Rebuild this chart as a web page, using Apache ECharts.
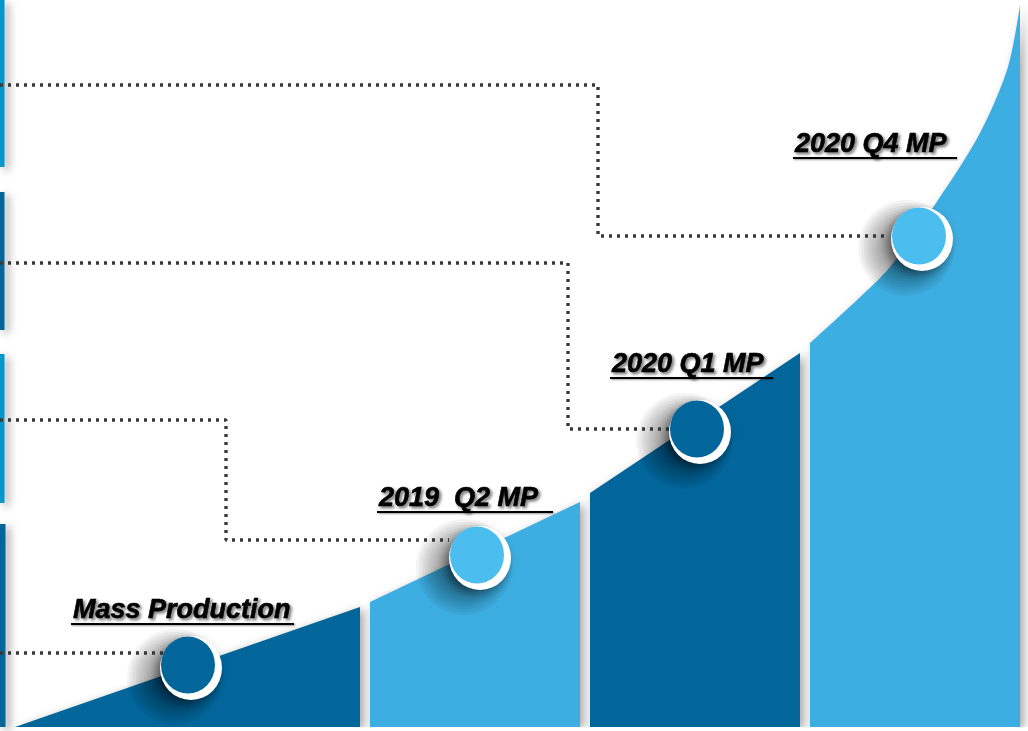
<!DOCTYPE html>
<html>
<head>
<meta charset="utf-8">
<script src="https://cdn.jsdelivr.net/npm/echarts@6/dist/echarts.min.js"></script>
<style>
html,body{margin:0;padding:0;background:#fff;}
#main{width:1028px;height:731px;}
</style>
</head>
<body>
<div id="main"></div>
<script>
// ---- data (x: timeline units, y: growth units) ----
var milestones = ['Mass Production', '2019  Q2 MP', '2020 Q1 MP', '2020 Q4 MP'];

var stage1 = [[1.5, 0], [36.0, 12.0]];
var stage2 = [[37.0, 12.5], [58.0, 22.5]];
var stage3 = [[59.0, 23.4], [80.0, 37.4]];
var stage4 = [[81.0, 38.4], [85.7, 42.7], [89.0, 46.0], [93.8, 52.7], [98.0, 59.4], [100.8, 66.0], [102.0, 72.2]];

var milestonePoints = [[18.8, 6.2], [47.7, 17.2], [69.7, 29.8], [91.9, 49.1]];

// label [startX, endX, underlineY]
var labelSpans = [[7.1, 29.4, 10.3], [37.7, 55.3, 21.5], [61.0, 77.3, 34.9], [79.3, 95.7, 56.9]];

// connector paths
var connectorA = [[0, 64.2], [59.8, 64.2], [59.8, 49.1], [88.9, 49.1]];
var connectorB = [[0, 46.4], [56.8, 46.4], [56.8, 29.8], [67.0, 29.8]];
var connectorC = [[0, 30.7], [22.6, 30.7], [22.6, 18.7], [44.9, 18.7]];
var connectorD = [[0, 7.4], [16.4, 7.4]];

// side markers [x0, x1, yTop, yBottom]
var sideMarkers = [[0, 0.45, 72.7, 56.0], [0, 0.45, 53.5, 39.7], [0, 0.45, 37.3, 22.4], [0, 0.55, 20.3, 0]];

var DARK = '#02669b', LIGHT = '#3daee1', CIRC_LIGHT = '#4bbdef', SIDE_LIGHT = '#0097cf';
var sideColors = [SIDE_LIGHT, DARK, SIDE_LIGHT, DARK];
var circleColors = [DARK, CIRC_LIGHT, DARK, CIRC_LIGHT];

function stageSeries(data, color, smooth) {
  return {
    type: 'line', data: data, symbol: 'none', smooth: smooth || false, z: 2,
    lineStyle: { width: 0, color: color },
    areaStyle: { color: color, opacity: 1, shadowBlur: 10, shadowColor: 'rgba(0,0,0,0.35)', shadowOffsetX: 4, shadowOffsetY: 2 },
    silent: true
  };
}
function connectorSeries(data) {
  return {
    type: 'line', data: data, symbol: 'none', z: 4, silent: true,
    lineStyle: { color: '#383838', width: 3.4, type: [3, 5], cap: 'butt', opacity: 1 }
  };
}

var chart = echarts.init(document.getElementById('main'));
chart.setOption({
  animation: false,
  backgroundColor: '#ffffff',
  grid: { left: 0, right: 0, top: 0, bottom: 4 },
  xAxis: { type: 'value', min: 0, max: 102.8, show: false },
  yAxis: { type: 'value', min: 0, max: 72.7, show: false },
  series: [
    {
      type: 'custom', z: 1, silent: true,
      data: sideMarkers,
      renderItem: function (params, api) {
        var p0 = api.coord([api.value(0), api.value(2)]);
        var p1 = api.coord([api.value(1), api.value(3)]);
        return {
          type: 'rect',
          shape: { x: p0[0], y: p0[1], width: p1[0] - p0[0], height: p1[1] - p0[1] },
          style: { fill: sideColors[params.dataIndex], shadowBlur: 8, shadowColor: 'rgba(0,0,0,0.4)', shadowOffsetX: 4, shadowOffsetY: 3 }
        };
      }
    },
    stageSeries(stage1, DARK),
    stageSeries(stage2, LIGHT),
    stageSeries(stage3, DARK),
    stageSeries(stage4, LIGHT, 0.3),
    {
      // soft drop shadow under each milestone (stack of translucent discs)
      type: 'custom', z: 3, silent: true,
      data: milestonePoints,
      renderItem: function (params, api) {
        var c = api.coord([api.value(0), api.value(1)]);
        var kids = [];
        for (var k = 0; k < 15; k++) {
          kids.push({
            type: 'circle',
            shape: { cx: c[0] - 13, cy: c[1] + 12, r: 48 - k * 2.8 },
            style: { fill: 'rgba(0,0,0,0.042)', shadowBlur: 10, shadowColor: 'rgba(0,0,0,0.042)' }
          });
        }
        return { type: 'group', children: kids };
      }
    },
    connectorSeries(connectorA),
    connectorSeries(connectorB),
    connectorSeries(connectorC),
    connectorSeries(connectorD),
    {
      type: 'scatter', z: 5, silent: true,
      data: milestonePoints,
      symbol: 'circle', symbolSize: [62, 64], symbolOffset: [3, 3],
      itemStyle: { color: '#ffffff', opacity: 1, shadowBlur: 10, shadowColor: 'rgba(0,0,0,0.4)', shadowOffsetX: -3, shadowOffsetY: 3 }
    },
    {
      type: 'scatter', z: 6, silent: true,
      data: milestonePoints,
      symbol: 'circle', symbolSize: [54, 57],
      itemStyle: { opacity: 1, color: function (p) { return circleColors[p.dataIndex]; } }
    },
    {
      type: 'custom', z: 7, silent: true,
      data: labelSpans,
      renderItem: function (params, api) {
        var p0 = api.coord([api.value(0), api.value(2)]);
        var p1 = api.coord([api.value(1), api.value(2)]);
        return {
          type: 'group',
          children: [
            {
              type: 'text',
              style: {
                text: milestones[params.dataIndex], x: p0[0] + 2, y: p0[1],
                align: 'left', verticalAlign: 'bottom',
                fontFamily: '"Liberation Sans", Arial, sans-serif', fontSize: 27,
                fontWeight: 'bold', fontStyle: 'italic', fill: '#000',
                stroke: '#000', lineWidth: 0.6,
                textShadowColor: 'rgba(0,0,0,0.5)', textShadowBlur: 3, textShadowOffsetX: 2, textShadowOffsetY: 2
              }
            },
            {
              type: 'line',
              shape: { x1: p0[0], y1: p0[1], x2: p1[0], y2: p1[1] },
              style: { stroke: '#000', lineWidth: 2, shadowColor: 'rgba(0,0,0,0.4)', shadowBlur: 2, shadowOffsetX: 1, shadowOffsetY: 1 }
            }
          ]
        };
      }
    }
  ]
});
</script>
</body>
</html>
